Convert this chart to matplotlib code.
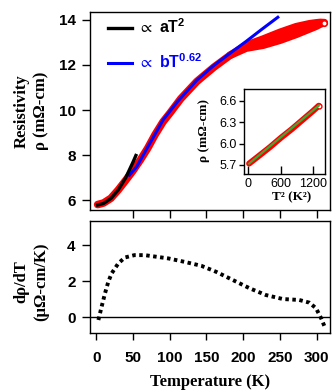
import numpy as np
import matplotlib
matplotlib.use('Agg')
import matplotlib.pyplot as plt

plt.rcParams['mathtext.fontset'] = 'custom'
plt.rcParams['mathtext.rm'] = 'Liberation Sans:bold'
plt.rcParams['mathtext.it'] = 'Liberation Sans:bold'
plt.rcParams['mathtext.bf'] = 'Liberation Sans:bold'
plt.rcParams['mathtext.fallback'] = 'stixsans'

# resistivity, two sweeps (they split above ~190 K)
T_up = [2, 10, 20, 30, 40, 50, 60, 70, 80, 91, 100, 115, 137, 160, 182, 204, 227, 250, 272, 290, 299, 305, 310]
rho_up = [5.8, 5.87, 6.08, 6.45, 6.87, 7.3, 7.78, 8.3, 8.9, 9.48, 9.85, 10.5, 11.27, 11.9, 12.43,
          12.88, 13.15, 13.45, 13.7, 13.83, 13.87, 13.89, 13.88]
T_dn = [182, 204, 227, 250, 272, 290, 299, 305, 310]
rho_dn = [12.43, 12.75, 12.88, 13.1, 13.36, 13.6, 13.72, 13.82, 13.88]

# fits
T_sq = [2, 10, 20, 30, 40, 50, 54]
rho_sq = [5.78, 5.85, 6.07, 6.45, 6.98, 7.68, 7.98]
T_pow = [45, 55, 70, 91, 110, 137, 160, 182, 204, 225, 247]
rho_pow = [7.1, 7.48, 8.35, 9.56, 10.35, 11.33, 11.98, 12.52, 13.05, 13.58, 14.12]

# inset: rho vs T^2
T2_in = [15, 200, 400, 600, 800, 1000, 1200, 1300]
rho_in = [5.72, 5.83, 5.95, 6.08, 6.2, 6.33, 6.46, 6.53]
T2_fit = [15, 1300]
rho_fit = [5.72, 6.53]

# derivative
T_d = [3, 7.4, 12, 16.5, 21, 30, 39, 52, 66, 98, 120, 143, 163, 186, 209, 231, 254, 276, 290, 299, 306, 311]
drho = [-0.15, 0.59, 1.33, 1.97, 2.43, 2.98, 3.31, 3.44, 3.44, 3.26, 3.07, 2.85, 2.52, 2.06, 1.6,
        1.23, 1.01, 0.96, 0.81, 0.5, -0.06, -0.55]

sans_b = dict(family='Liberation Sans', weight='bold', size=11)
serif_b = dict(family='Liberation Serif', weight='bold')

fig = plt.figure(figsize=(3.33, 3.91), dpi=100)
ax1 = fig.add_axes([0.269, 0.463, 0.722, 0.5055])
ax2 = fig.add_axes([0.269, 0.1483, 0.722, 0.2865])
axin = fig.add_axes([0.7336, 0.555, 0.2423, 0.2174])

# top panel
ax1.plot(T_up, rho_up, color='red', lw=5.5, solid_capstyle='round', solid_joinstyle='round', zorder=2)
ax1.plot(T_dn, rho_dn, color='red', lw=5.5, solid_capstyle='round', solid_joinstyle='round', zorder=2)
ax1.fill_between(T_dn, rho_dn, rho_up[-len(T_dn):], color='red', lw=0, zorder=2)
ax1.plot(T_up[-1], rho_up[-1], 'o', ms=4, mfc='white', mec='red', mew=1.2, zorder=3)
ax1.plot(T_pow, rho_pow, color='blue', lw=2.2, label=r'$\propto$ bT$^{0.62}$', zorder=3)
ax1.plot(T_sq, rho_sq, color='black', lw=2.4, label=r'$\propto$ aT$^{2}$', zorder=4)
h, l = ax1.get_legend_handles_labels()
ax1.legend(h[::-1], l[::-1], loc='upper left', bbox_to_anchor=(0.015, 1.045), frameon=False,
           handlelength=1.5, handletextpad=0.4, labelspacing=1.0, labelcolor='linecolor',
           prop=dict(family=['Liberation Sans', 'DejaVu Sans'], weight='bold', size=11.5))
ax1.set_xlim(-9, 318)
ax1.set_ylim(5.56, 14.34)
ax1.set_xticks([50, 100, 150, 200, 250, 300])
ax1.set_xticklabels([])
ax1.set_yticks([6, 8, 10, 12, 14])
ax1.tick_params(axis='both', direction='out', length=6, width=1, pad=4)
ax1.set_yticklabels(['6', '8', '10', '12', '14'], **sans_b)
ax1.text(-0.243, 0.5, 'Resistivity\nρ (mΩ-cm)', transform=ax1.transAxes, rotation=90,
         ha='center', va='center', fontsize=12, linespacing=1.3, **serif_b)

# inset
axin.plot(T2_in, rho_in, color='red', lw=4.3, solid_capstyle='round')
axin.plot(T2_in[-1], rho_in[-1], 'o', ms=3.5, mfc='white', mec='red', mew=1)
axin.plot(T2_fit, rho_fit, color='#3aaa35', lw=1.6)
axin.set_xlim(-74, 1415)
axin.set_ylim(5.574, 6.764)
axin.set_xticks([0, 600, 1200])
axin.set_yticks([5.7, 6.0, 6.3, 6.6])
axin.tick_params(axis='x', direction='in', length=6, width=1, pad=3)
axin.tick_params(axis='y', direction='out', length=3.5, width=1, pad=2)
axin.set_xticklabels(['0', '600', '1200'], family='Liberation Sans', size=9)
axin.set_yticklabels(['5.7', '6.0', '6.3', '6.6'], family='Liberation Sans', size=9)
axin.text(-0.5, 0.506, 'ρ (mΩ-cm)', transform=axin.transAxes, rotation=90,
          ha='center', va='center', fontsize=9.5, **serif_b)
axin.text(0.59, -0.27, 'T² (K²)', transform=axin.transAxes, ha='center', va='center',
          fontsize=9.5, **serif_b)

# bottom panel
ax2.axhline(0, color='black', lw=1)
ax2.plot(T_d, drho, color='black', lw=2.8, linestyle=(0, (0.9, 0.9)), dash_capstyle='butt')
ax2.set_xlim(-9, 318)
ax2.set_ylim(-0.87, 5.33)
ax2.set_xticks([0, 50, 100, 150, 200, 250, 300])
ax2.set_yticks([0, 2, 4])
ax2.tick_params(axis='x', direction='out', length=5, width=1, pad=8)
ax2.tick_params(axis='y', direction='out', length=6, width=1, pad=4)
ax2.set_xticklabels(['0', '50', '100', '150', '200', '250', '300'], **sans_b)
ax2.set_yticklabels(['0', '2', '4'], **sans_b)
ax2.text(-0.243, 0.455, 'dρ/dT\n(μΩ-cm/K)', transform=ax2.transAxes, rotation=90,
         ha='center', va='center', fontsize=12, linespacing=1.3, **serif_b)
ax2.text(0.5, -0.44, 'Temperature (K)', transform=ax2.transAxes, ha='center', va='center',
         fontsize=12, **serif_b)

for a in (ax1, ax2, axin):
    for s in a.spines.values():
        s.set_linewidth(1)

fig.savefig('out.png', dpi=100)
